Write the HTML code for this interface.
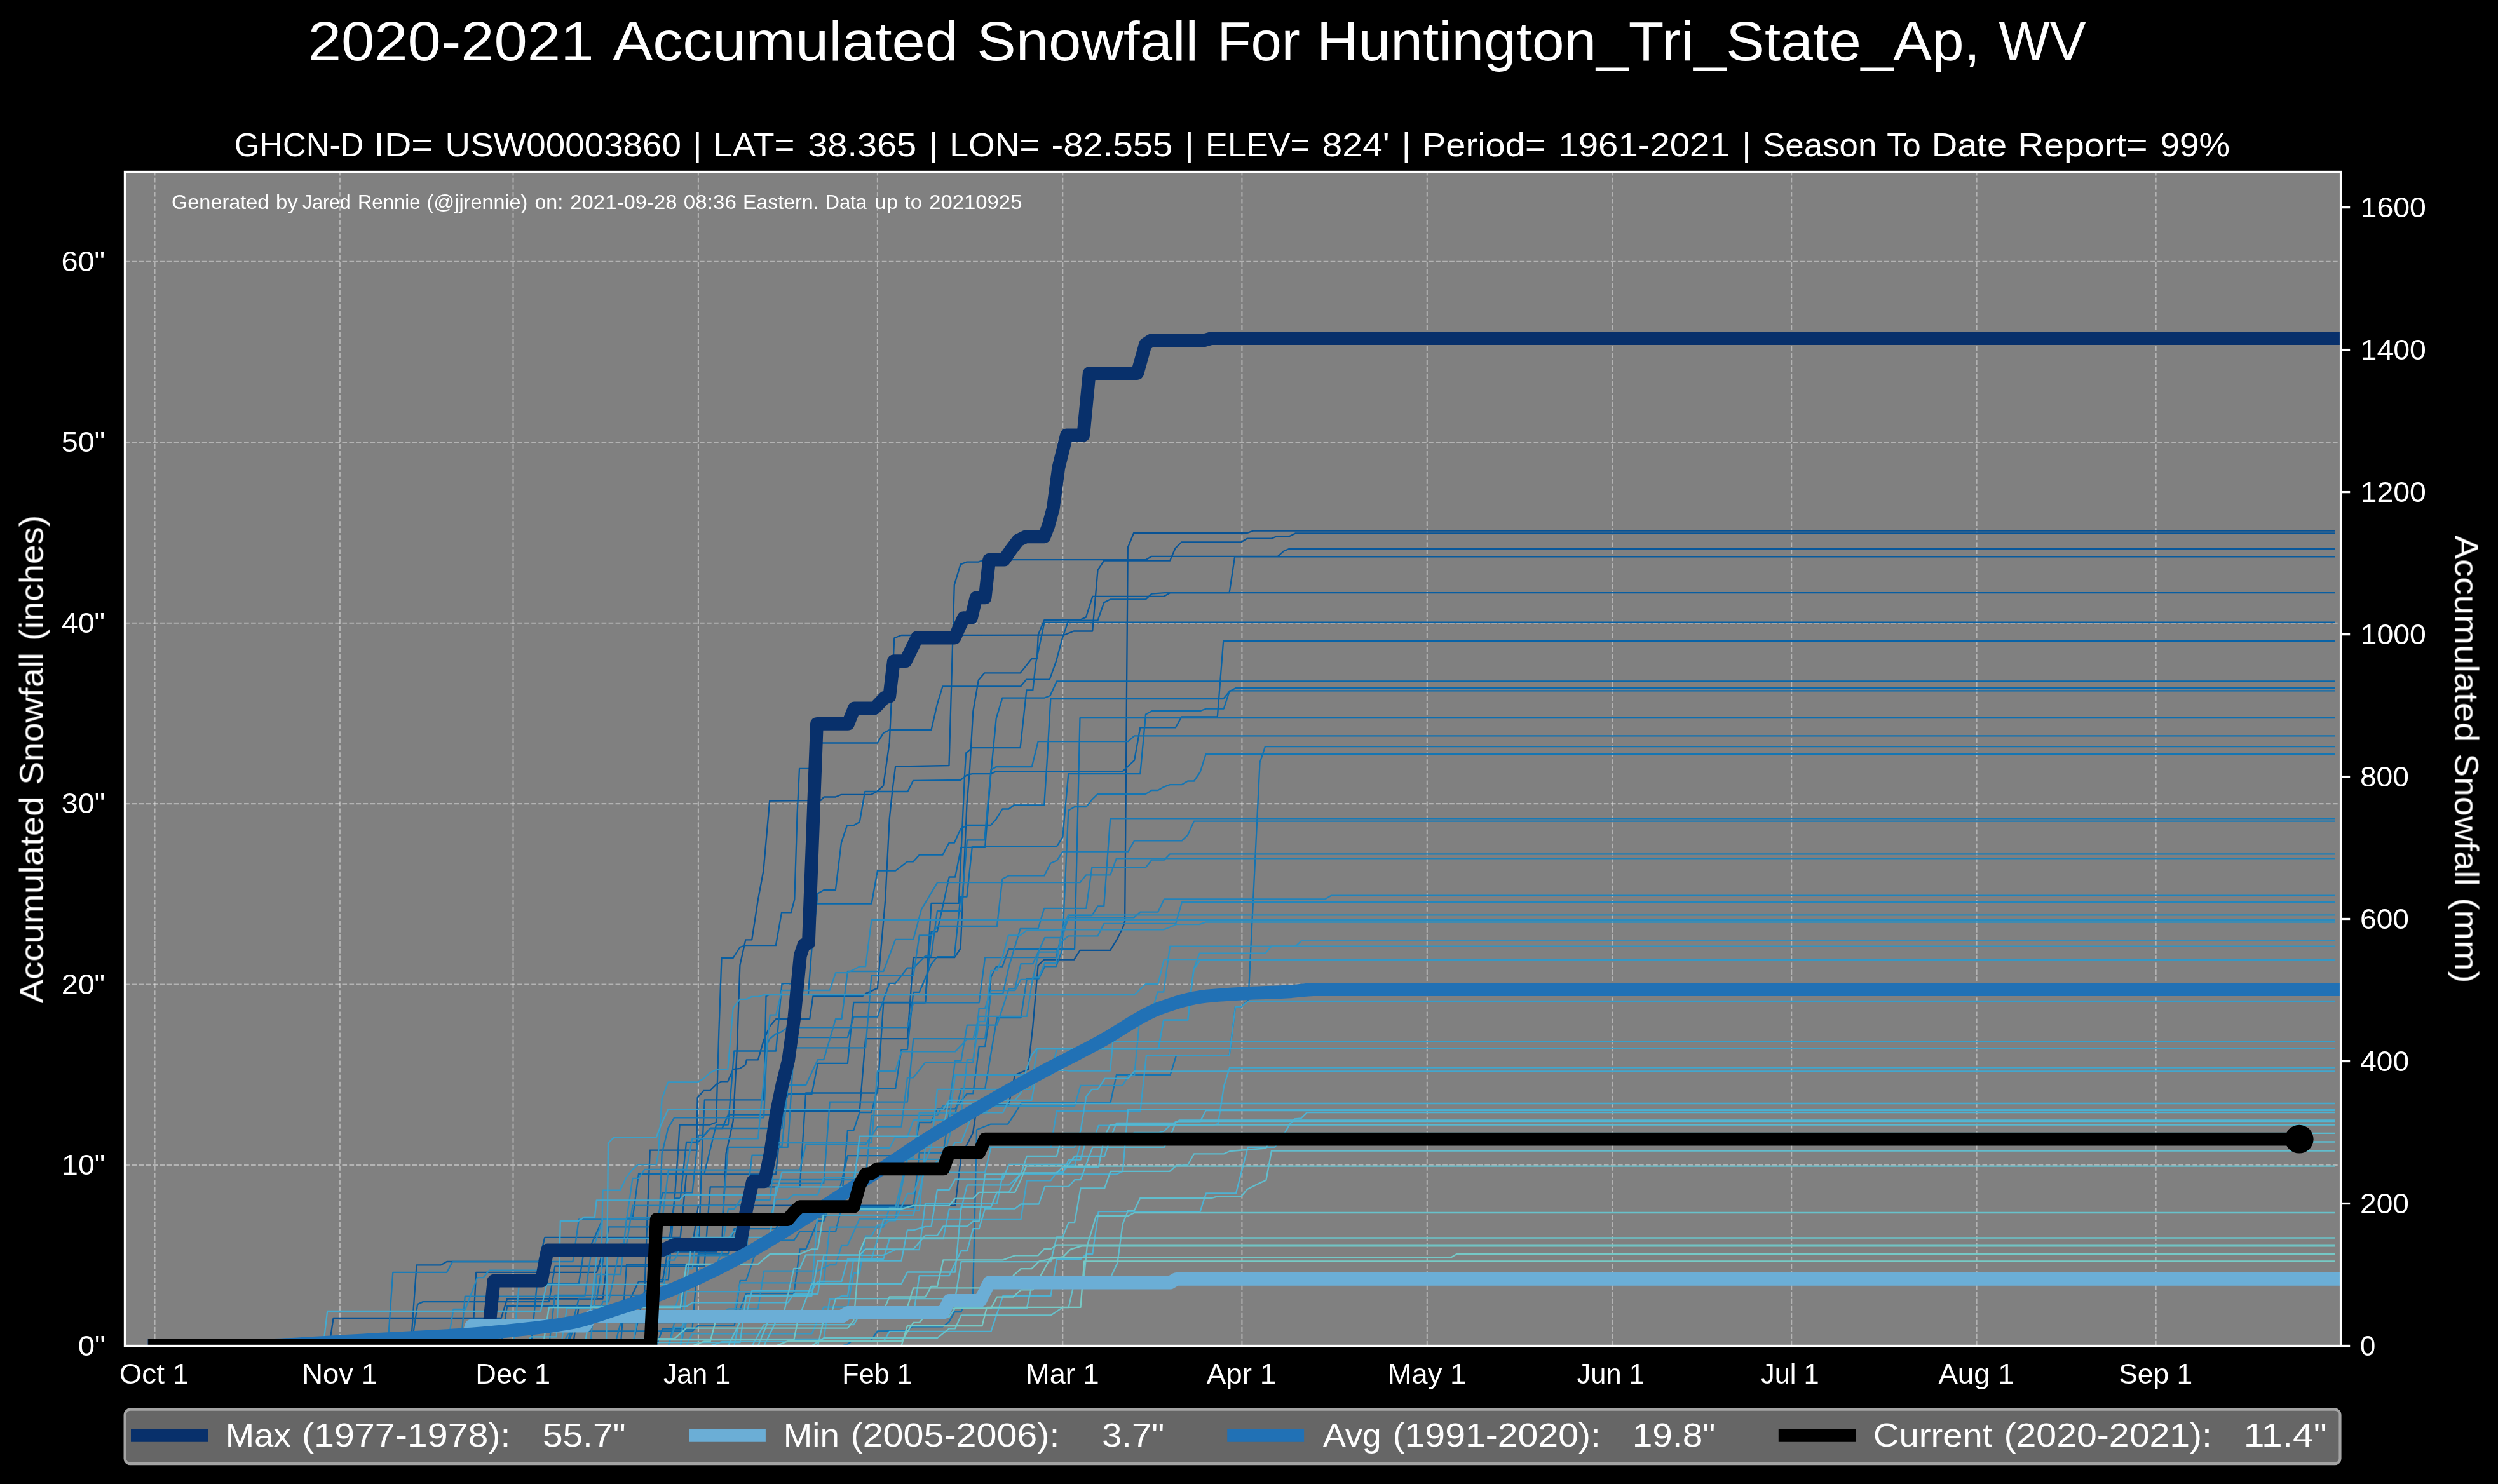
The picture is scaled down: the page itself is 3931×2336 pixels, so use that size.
<!DOCTYPE html>
<html><head><meta charset="utf-8"><title>2020-2021 Accumulated Snowfall For Huntington_Tri_State_Ap, WV</title>
<style>
html,body{margin:0;padding:0;background:#000;}
body{width:3931px;height:2336px;overflow:hidden;}
svg{display:block;}
text{font-family:"Liberation Sans",sans-serif;fill:#fff;}
</style></head><body>
<svg width="3931" height="2336" viewBox="0 0 3931 2336">
<rect x="0" y="0" width="3931" height="2336" fill="#000"/>
<rect x="196.5" y="270.5" width="3487.1" height="1848.0" fill="#808080"/>
<defs><clipPath id="ax"><rect x="196.5" y="270.5" width="3487.1" height="1848.0"/></clipPath></defs>
<g stroke="#ffffff" stroke-opacity="0.4" stroke-width="2.08" stroke-dasharray="7.7 3.33" fill="none">
<line x1="243.5" y1="2118.5" x2="243.5" y2="270.5"/>
<line x1="534.9" y1="2118.5" x2="534.9" y2="270.5"/>
<line x1="807.5" y1="2118.5" x2="807.5" y2="270.5"/>
<line x1="1098.9" y1="2118.5" x2="1098.9" y2="270.5"/>
<line x1="1380.9" y1="2118.5" x2="1380.9" y2="270.5"/>
<line x1="1672.3" y1="2118.5" x2="1672.3" y2="270.5"/>
<line x1="1954.4" y1="2118.5" x2="1954.4" y2="270.5"/>
<line x1="2245.8" y1="2118.5" x2="2245.8" y2="270.5"/>
<line x1="2537.2" y1="2118.5" x2="2537.2" y2="270.5"/>
<line x1="2819.2" y1="2118.5" x2="2819.2" y2="270.5"/>
<line x1="3110.6" y1="2118.5" x2="3110.6" y2="270.5"/>
<line x1="3392.6" y1="2118.5" x2="3392.6" y2="270.5"/>
<line x1="196.5" y1="1834.0" x2="3683.6" y2="1834.0"/>
<line x1="196.5" y1="1549.6" x2="3683.6" y2="1549.6"/>
<line x1="196.5" y1="1265.1" x2="3683.6" y2="1265.1"/>
<line x1="196.5" y1="980.7" x2="3683.6" y2="980.7"/>
<line x1="196.5" y1="696.2" x2="3683.6" y2="696.2"/>
<line x1="196.5" y1="411.7" x2="3683.6" y2="411.7"/>
</g>
<g clip-path="url(#ax)" fill="none" stroke-linejoin="round">
<g stroke-width="2.3" stroke-linecap="butt">
<path d="M243.5 2118.5L518.0 2118.5L524.6 2075.0L788.7 2075.0L798.1 2044.6L948.5 2044.6L957.9 1962.1L1089.5 1962.1L1098.9 1897.6L1503.1 1897.6L1512.5 1820.0L1531.1 1783.0L1537.9 1737.5L1587.7 1737.5L1597.1 1692.0L1617.8 1683.5L1625.3 1616.1L1633.6 1519.7L1643.2 1510.6L1690.2 1510.6L1699.6 1495.9L1747.2 1495.9L1756.9 1480.2L1766.8 1460.6L1770.1 1450.4L1774.8 861.8L1784.2 838.8L1962.8 838.8L1972.2 835.7L3674.6 835.7" stroke="#085294"/>
<path d="M243.5 2118.5L525.5 2118.5L619.5 2118.5L628.9 2117.1L638.3 2117.1L647.7 2111.8L666.5 2111.8L685.3 2110.0L743.6 2110.0L749.2 2002.8L939.1 2002.8L948.5 1970.7L1127.1 1970.7L1136.5 1947.9L1142.5 1816.0L1153.7 1764.5L1159.8 1652.2L1164.4 1519.2L1173.3 1479.4L1183.2 1479.4L1192.9 1416.0L1201.4 1370.8L1211.2 1260.7L1291.6 1259.9L1296.6 1254.5L1314.9 1254.5L1323.9 1250.8L1371.0 1250.8L1380.7 1245.4L1390.1 1236.9L1399.7 1168.9L1407.3 1004.3L1418.5 1000.0L1674.2 999.7L1689.7 993.5L1719.2 993.5L1727.5 897.7L1737.2 882.6L1841.1 882.6L1849.5 863.0L1859.4 853.3L1953.4 853.3L1962.8 847.6L2000.9 847.6L2009.3 844.2L2028.9 844.2L2038.8 839.4L3674.6 839.4" stroke="#085598"/>
<path d="M243.5 2118.5L901.5 2118.5L910.9 2056.0L1013.4 2056.0L1018.1 1928.0L1022.8 1810.6L1096.1 1810.6L1097.6 1728.1L1107.4 1716.8L1117.3 1716.8L1127.0 1707.1L1135.6 1702.3L1145.3 1702.3L1153.7 1683.2L1164.4 1681.8L1173.2 1676.1L1174.7 1668.4L1192.9 1668.4L1202.0 1636.9L1211.2 1615.8L1220.9 1604.2L1274.2 1604.2L1279.4 1568.1L1357.4 1568.1L1362.1 1564.1L1380.9 1555.6L1393.2 1416.3L1399.7 1288.9L1404.4 1244.0L1409.1 1206.7L1493.5 1205.0L1501.8 920.7L1511.6 888.3L1521.5 884.6L1539.8 884.6L1548.3 881.2L1803.0 881.2L1812.4 875.8L2010.8 875.8L2020.2 867.5L2028.9 863.8L3674.6 863.8" stroke="#08589b"/>
<path d="M243.5 2118.5L525.5 2118.5L600.7 2118.5L610.1 2117.0L619.5 2117.0L628.9 2111.7L638.3 2111.7L647.1 2110.0L655.6 1991.4L693.4 1991.4L703.2 1986.0L847.9 1986.0L857.3 1947.9L1070.7 1947.9L1080.1 1848.4L1221.1 1848.4L1230.5 1748.9L1352.7 1748.9L1362.1 1635.2L1427.9 1635.2L1437.3 1507.2L1502.2 1507.2L1511.6 1493.0L1521.5 1265.6L1525.7 1216.1L1531.3 1119.7L1539.8 1070.5L1549.2 1059.4L1605.6 1059.4L1623.5 1037.0L1631.9 1037.0L1633.8 999.2L1643.2 976.1L1700.5 975.3L1709.0 971.6L1719.3 938.9L1831.2 938.9L1841.1 933.2L1934.6 933.2L1943.1 876.3L3674.6 876.3" stroke="#085a9d"/>
<path d="M243.5 2118.5L666.5 2118.5L694.7 2118.5L704.1 2113.5L788.7 2113.5L798.1 2056.0L986.1 2056.0L1004.9 2017.4L1042.5 2017.4L1051.9 1962.2L1061.3 1891.1L1066.8 1816.0L1069.6 1770.5L1117.3 1770.5L1127.0 1766.8L1131.3 1624.4L1135.5 1507.8L1153.7 1507.8L1164.4 1491.0L1173.3 1488.2L1220.9 1488.2L1230.0 1436.4L1244.8 1436.4L1250.3 1416.0L1254.6 1280.4L1258.0 1209.8L1277.5 1209.8L1285.1 1169.5L1380.7 1169.5L1390.1 1154.1L1399.7 1149.0L1465.5 1149.0L1474.9 1108.3L1483.4 1080.5L1606.2 1080.5L1615.0 1069.7L1651.7 1069.7L1662.0 1041.0L1671.4 1006.0L1681.3 976.7L1727.5 976.7L1737.2 948.6L1747.2 943.4L1803.0 943.4L1812.4 934.6L1832.2 933.2L3674.6 933.2" stroke="#085ea1"/>
<path d="M243.5 2118.5L525.5 2118.5L572.5 2118.5L581.9 2118.1L591.3 2118.1L600.7 2113.5L610.1 2113.5L619.5 2110.0L648.7 2110.0L657.1 2053.1L665.6 2049.1L863.9 2049.1L873.3 1993.4L1108.3 1993.4L1117.7 1868.3L1258.7 1868.3L1268.1 1720.5L1380.9 1720.5L1390.3 1578.3L1456.1 1578.3L1465.5 1421.9L1508.8 1421.9L1518.2 1217.2L1520.1 1185.4L1529.9 1177.1L1605.6 1177.1L1615.4 1086.5L1625.3 1086.5L1630.0 1043.8L1643.5 979.6L3674.6 979.6" stroke="#0861a4"/>
<path d="M243.5 2118.5L976.7 2118.5L986.1 1990.6L1098.9 1990.6L1104.6 1816.0L1108.8 1731.3L1202.0 1731.3L1205.5 1568.1L1211.2 1565.5L1271.9 1565.5L1277.5 1493.0L1286.9 1406.6L1296.6 1400.9L1314.9 1400.9L1323.9 1326.7L1333.0 1299.4L1342.9 1299.4L1352.7 1294.0L1361.2 1246.0L1428.4 1246.0L1436.9 1228.9L1511.6 1228.0L1521.5 1220.1L1529.9 1218.1L1559.4 1218.1L1567.7 1214.1L1766.8 1214.1L1785.1 1196.8L1794.3 1145.3L1850.0 1145.3L1859.4 1128.5L1915.8 1128.5L1925.2 1008.8L3674.6 1008.8" stroke="#0863a7"/>
<path d="M243.5 2118.5L807.5 2118.5L995.5 2118.5L1014.3 2031.5L1023.7 2031.5L1033.1 2014.3L1051.9 2014.3L1061.3 1886.5L1070.7 1886.5L1080.1 1797.8L1098.9 1797.8L1117.7 1776.0L1136.5 1776.0L1145.9 1754.7L1230.5 1754.7L1239.9 1722.2L1277.5 1722.2L1286.9 1673.8L1333.9 1673.8L1343.3 1578.0L1456.1 1578.0L1465.5 1466.3L1474.9 1466.3L1493.7 1380.5L1503.1 1380.5L1512.5 1333.8L1529.9 1333.8L1550.1 1333.8L1559.4 1217.2L1567.7 1130.8L1577.4 1098.7L1643.2 1098.7L1652.6 1095.0L1662.9 1072.5L3674.6 1072.5" stroke="#0867ab"/>
<path d="M243.5 2118.5L732.3 2118.5L835.7 2118.5L845.1 2020.2L910.9 2020.2L920.3 1960.6L929.7 1960.6L948.5 1918.9L995.5 1918.9L1004.9 1847.8L1108.3 1847.8L1127.1 1770.5L1145.9 1770.5L1155.3 1654.5L1221.1 1654.5L1230.5 1548.3L1249.3 1548.3L1258.7 1501.6L1268.1 1501.6L1277.5 1422.5L1371.5 1422.5L1380.9 1370.7L1409.1 1370.7L1427.9 1356.3L1437.3 1356.3L1446.7 1345.7L1474.9 1345.7L1483.4 1345.7L1493.5 1326.7L1501.8 1326.7L1511.6 1305.1L1521.5 1298.8L1559.4 1298.8L1567.7 1289.2L1577.4 1273.5L1587.4 1273.5L1595.8 1267.3L1643.2 1267.3L1647.6 1200.2L1653.3 1100.1L1925.2 1100.1L1935.0 1088.2L1944.8 1083.0L3674.6 1083.0" stroke="#0969ad"/>
<path d="M243.5 2118.5L901.5 2118.5L1033.1 2118.5L1042.5 2091.6L1089.5 2091.6L1098.9 1973.6L1145.9 1973.6L1155.3 1934.2L1221.1 1934.2L1230.5 1915.6L1296.3 1915.6L1305.7 1888.9L1324.5 1888.9L1333.9 1779.3L1343.3 1779.3L1352.7 1751.0L1371.5 1751.0L1380.9 1713.9L1409.1 1713.9L1418.5 1652.2L1427.9 1652.2L1437.3 1561.9L1446.7 1561.9L1465.5 1517.7L1474.9 1506.1L1501.8 1506.1L1511.6 1411.7L1521.5 1411.7L1529.9 1332.4L1662.9 1332.4L1672.3 1317.9L1681.3 1218.1L1794.3 1218.1L1803.0 1124.6L1812.4 1119.2L1888.6 1119.2L1898.5 1115.5L1925.8 1115.5L1935.0 1087.3L3674.6 1087.3" stroke="#0b6cae"/>
<path d="M243.5 2118.5L845.1 2118.5L892.1 2118.5L901.5 2095.4L1089.5 2095.4L1098.9 2086.3L1155.3 2086.3L1174.1 2036.1L1249.3 2036.1L1258.7 1966.5L1268.1 1966.5L1286.9 1922.0L1296.3 1922.0L1305.7 1898.4L1315.1 1898.4L1333.9 1819.2L1437.3 1819.2L1446.7 1767.0L1465.5 1767.0L1474.9 1745.3L1503.1 1745.3L1521.9 1721.3L1531.3 1721.3L1540.7 1647.2L1550.1 1647.2L1554.8 1616.1L1559.4 1537.9L1567.7 1521.7L1577.4 1521.7L1587.4 1493.9L1691.1 1493.9L1699.5 1130.2L3674.6 1130.2" stroke="#0e6eaf"/>
<path d="M243.5 2118.5L779.3 2118.5L892.1 2118.5L910.9 2043.9L939.1 2043.9L957.9 1931.3L1033.1 1931.3L1042.5 1877.3L1089.5 1877.3L1098.9 1786.9L1108.3 1786.9L1117.7 1776.0L1230.5 1776.0L1239.9 1633.2L1333.9 1633.2L1343.3 1600.7L1380.9 1600.7L1399.7 1547.9L1409.1 1547.9L1427.9 1523.6L1437.3 1523.6L1456.1 1504.8L1465.5 1504.8L1474.9 1434.1L1512.5 1434.1L1521.9 1322.4L1549.2 1322.4L1559.4 1212.1L1567.7 1207.0L1623.8 1207.0L1633.6 1167.2L1775.2 1167.2L1785.1 1158.4L3674.6 1158.4" stroke="#1171b1"/>
<path d="M243.5 2118.5L1324.5 2118.5L1333.6 2115.9L1341.8 2110.3L1370.6 2110.3L1380.7 2095.5L1427.0 2094.9L1435.5 2088.4L1483.4 2088.4L1493.4 2081.0L1502.2 2065.0L1512.5 2065.0L1515.4 2057.9L1526.6 2044.6L1531.1 2036.1L1537.0 1778.2L1558.6 1769.7L1585.9 1769.7L1597.7 1752.0L1607.5 1736.1L1747.5 1736.1L1756.9 1692.0L1841.6 1692.0L1851.0 1661.6L1934.6 1661.6L1944.0 1584.9L1953.4 1584.6L1964.4 1574.3L1982.6 1200.2L1991.0 1175.2L3674.6 1175.2" stroke="#1373b2"/>
<path d="M243.5 2118.5L920.3 2118.5L967.3 2118.5L976.7 2082.2L1155.3 2082.2L1164.7 2015.8L1174.1 2015.8L1192.9 1960.8L1202.3 1960.8L1211.7 1952.5L1249.3 1952.5L1258.7 1938.4L1315.1 1938.4L1324.5 1899.8L1437.3 1899.8L1446.7 1814.5L1484.3 1814.5L1493.7 1753.4L1503.1 1753.4L1512.5 1713.9L1550.1 1713.9L1568.9 1602.2L1606.5 1602.2L1615.9 1540.5L1634.7 1540.5L1644.1 1521.4L1662.0 1521.4L1671.4 1495.9L1681.3 1275.8L1691.1 1270.1L1709.3 1270.1L1718.4 1258.7L1727.5 1249.9L1803.0 1249.9L1812.4 1244.0L1822.3 1244.0L1831.9 1238.6L1841.1 1235.1L1859.9 1235.1L1869.1 1229.5L1879.0 1229.5L1888.6 1215.5L1897.7 1186.8L3674.6 1186.8" stroke="#1576b3"/>
<path d="M243.5 2118.5L863.9 2118.5L873.3 2038.9L1033.1 2038.9L1041.6 1816.0L1051.4 1775.6L1061.1 1759.4L1202.0 1759.4L1207.0 1644.0L1211.2 1635.5L1220.9 1627.5L1229.6 1624.4L1239.0 1617.3L1427.9 1617.3L1437.3 1578.3L1540.7 1578.3L1550.1 1507.2L1662.0 1507.2L1671.4 1467.4L1681.3 1441.0L1718.4 1441.0L1727.5 1426.5L1737.2 1426.5L1747.2 1288.3L3674.6 1288.3" stroke="#1979b5"/>
<path d="M243.5 2118.5L525.5 2118.5L572.5 2118.5L581.9 2116.1L591.3 2116.1L610.8 2110.0L618.3 2002.8L703.2 2002.8L712.2 1986.0L901.5 1986.0L910.9 1919.5L1136.5 1919.5L1145.9 1805.8L1239.9 1805.8L1249.3 1649.4L1362.1 1649.4L1371.5 1535.7L1437.3 1535.7L1446.7 1472.5L1465.5 1472.5L1474.9 1458.0L1568.9 1458.0L1577.4 1383.8L1587.4 1378.4L1643.2 1378.4L1653.3 1358.8L1662.9 1354.8L1672.3 1340.6L1775.2 1340.6L1785.1 1323.3L1859.9 1323.3L1869.1 1314.5L1879.0 1292.6L3674.6 1292.6" stroke="#1b7bb6"/>
<path d="M243.5 2118.5L525.5 2118.5L610.1 2118.5L619.5 2117.3L628.9 2117.3L647.7 2115.1L657.1 2115.1L666.5 2110.0L725.7 2110.0L731.8 2040.6L920.3 2040.6L929.7 1976.3L1174.1 1976.3L1183.5 1862.6L1296.3 1862.6L1305.7 1734.7L1427.9 1734.7L1437.3 1635.2L1550.1 1635.2L1559.5 1564.1L1578.3 1564.1L1587.7 1521.4L1605.6 1462.0L1633.6 1462.0L1643.2 1429.9L1709.3 1429.9L1718.4 1365.4L1803.0 1365.4L1812.4 1353.7L1831.9 1353.7L1841.1 1344.3L3674.6 1344.3" stroke="#1d7eb7"/>
<path d="M243.5 2118.5L657.1 2118.5L882.7 2118.5L901.5 2089.0L910.9 2089.0L920.3 2079.6L939.1 2079.6L948.5 2049.0L957.9 2049.0L976.7 1958.4L986.1 1958.4L995.5 1897.7L1174.1 1897.7L1183.5 1818.6L1211.7 1818.6L1221.1 1804.7L1230.5 1804.7L1239.9 1708.2L1268.1 1708.2L1286.9 1668.1L1296.3 1668.1L1315.1 1603.9L1324.5 1603.9L1333.9 1529.0L1390.3 1529.0L1409.1 1478.8L1437.3 1478.8L1450.0 1431.3L1475.2 1389.2L1699.6 1389.2L1709.3 1377.3L1747.2 1377.3L1756.9 1351.4L3674.6 1351.4" stroke="#2081b8"/>
<path d="M243.5 2118.5L995.5 2118.5L1051.9 2118.5L1061.3 2081.8L1070.7 2081.8L1080.1 1990.9L1127.1 1990.9L1145.9 1949.8L1155.3 1949.8L1174.1 1871.6L1183.5 1871.6L1202.3 1857.0L1362.1 1857.0L1371.5 1755.9L1474.9 1755.9L1484.3 1740.2L1493.7 1740.2L1503.1 1669.6L1512.5 1669.6L1521.9 1613.6L1568.9 1613.6L1587.7 1556.4L1597.1 1556.4L1606.5 1517.2L1625.3 1517.2L1644.1 1476.0L1671.4 1476.0L1681.3 1444.4L1784.5 1444.4L1794.3 1435.6L1822.3 1435.6L1831.9 1415.4L2085.0 1415.4L2094.8 1409.7L3674.6 1409.7" stroke="#2283ba"/>
<path d="M243.5 2118.5L798.1 2118.5L835.7 2118.5L845.1 2110.8L929.7 2110.8L939.1 2006.0L976.7 2006.0L986.1 1916.7L1042.5 1916.7L1051.9 1841.7L1258.7 1841.7L1268.1 1801.8L1362.1 1801.8L1380.9 1773.7L1418.5 1773.7L1427.9 1696.3L1437.3 1696.3L1456.1 1672.4L1531.3 1672.4L1540.7 1587.3L1550.1 1587.3L1559.5 1559.2L1597.1 1559.2L1606.5 1541.8L1625.3 1541.8L1634.7 1498.7L1662.0 1498.7L1671.4 1481.6L1681.3 1473.4L1727.5 1473.4L1737.2 1453.8L1850.3 1453.8L1859.9 1420.0L3674.6 1420.0" stroke="#2586bb"/>
<path d="M243.5 2118.5L929.7 2118.5L1014.3 2118.5L1033.1 2035.3L1042.5 2035.3L1051.9 1983.7L1061.3 1983.7L1070.7 1964.1L1136.5 1964.1L1145.9 1903.2L1155.3 1903.2L1164.7 1888.9L1211.7 1888.9L1221.1 1799.0L1371.5 1799.0L1380.9 1686.2L1409.1 1686.2L1418.5 1655.4L1503.1 1655.4L1521.9 1635.7L1531.3 1635.7L1540.7 1599.9L1615.9 1599.9L1625.3 1538.4L1634.7 1538.4L1644.1 1515.8L1662.0 1515.8L1671.4 1464.6L1681.3 1440.4L3674.6 1440.4" stroke="#2889bc"/>
<path d="M243.5 2118.5L638.3 2118.5L704.1 2118.5L713.5 2061.0L732.3 2061.0L751.1 2011.2L760.5 2011.2L769.9 1999.7L854.5 1999.7L863.9 1977.4L929.7 1977.4L948.5 1918.9L986.1 1918.9L995.5 1854.9L1004.9 1854.9L1014.3 1840.8L1080.1 1840.8L1089.5 1792.3L1192.9 1792.3L1211.7 1597.7L1221.1 1597.7L1230.5 1559.0L1305.7 1559.0L1315.1 1531.1L1333.9 1531.1L1352.7 1521.4L1362.1 1521.4L1371.5 1448.1L3674.6 1448.1" stroke="#2a8bbe"/>
<path d="M243.5 2118.5L835.7 2118.5L1070.7 2118.5L1080.1 2081.1L1127.1 2081.1L1145.9 2060.3L1192.9 2060.3L1202.3 2000.7L1286.9 2000.7L1305.7 1991.0L1315.1 1991.0L1324.5 1959.9L1333.9 1959.9L1352.7 1918.6L1409.1 1918.6L1427.9 1824.8L1484.3 1824.8L1503.1 1755.5L1512.5 1755.5L1521.9 1668.2L1531.3 1668.2L1540.7 1608.0L1550.1 1608.0L1559.5 1527.9L1568.9 1527.9L1577.4 1507.2L1586.8 1472.5L1605.6 1472.5L1615.0 1464.6L1672.3 1463.4L1831.2 1463.4L1841.1 1459.5L1850.9 1455.2L1887.3 1455.2L1897.7 1451.5L3674.6 1451.5" stroke="#2c8ebf"/>
<path d="M243.5 2118.5L967.3 2118.5L1051.9 2118.5L1061.3 2089.8L1070.7 2089.8L1080.1 2081.4L1117.7 2081.4L1127.1 2066.4L1155.3 2066.4L1164.7 2019.3L1296.3 2019.3L1305.7 1931.7L1390.3 1931.7L1399.7 1901.0L1409.1 1901.0L1427.9 1823.6L1437.3 1823.6L1446.7 1751.7L1550.1 1751.7L1559.5 1741.2L1691.1 1741.2L1700.5 1708.9L1766.3 1708.9L1775.7 1693.2L1785.1 1693.2L1794.5 1592.5L1812.4 1592.5L1821.8 1561.5L1831.2 1561.5L1841.1 1489.6L2038.8 1489.6L2048.4 1480.5L3674.6 1480.5" stroke="#2f90c0"/>
<path d="M243.5 2118.5L892.1 2118.5L995.5 2118.5L1004.9 2064.3L1061.3 2064.3L1080.1 1997.2L1089.5 1997.2L1098.9 1928.7L1136.5 1928.7L1145.9 1921.3L1192.9 1921.3L1202.3 1916.1L1211.7 1916.1L1221.1 1887.9L1239.9 1887.9L1249.3 1880.5L1286.9 1880.5L1296.3 1853.8L1343.3 1853.8L1352.7 1807.2L1399.7 1807.2L1409.1 1790.0L1427.9 1790.0L1437.3 1763.1L1493.7 1763.1L1503.1 1692.0L1653.5 1692.0L1662.9 1651.4L1822.8 1651.4L1831.2 1605.6L1869.2 1605.6L1878.2 1526.3L1887.6 1500.7L1991.0 1500.7L2000.9 1489.6L3674.6 1489.6" stroke="#3294c2"/>
<path d="M243.5 2118.5L807.5 2118.5L816.9 2022.4L945.7 2022.4L948.5 1873.7L975.8 1873.7L985.2 1854.1L994.6 1841.6L1004.0 1833.1L1032.7 1833.1L1035.9 1816.0L1041.6 1729.3L1051.4 1703.4L1097.6 1703.4L1107.4 1697.7L1117.3 1688.6L1128.4 1683.2L1145.3 1683.2L1153.7 1586.6L1164.4 1572.9L1174.7 1572.9L1183.2 1568.9L1192.9 1568.9L1202.0 1566.1L1785.1 1566.1L1803.0 1549.0L1822.3 1549.0L1831.9 1510.1L3674.6 1510.1" stroke="#3496c3"/>
<path d="M243.5 2118.5L1023.7 2118.5L1080.1 2118.5L1089.5 2099.4L1277.5 2099.4L1296.3 2057.5L1333.9 2057.5L1343.3 2003.9L1352.7 2003.9L1362.1 1945.7L1371.5 1945.7L1380.9 1928.3L1390.3 1928.3L1399.7 1921.3L1409.1 1921.3L1427.9 1879.0L1437.3 1879.0L1456.1 1827.5L1465.5 1805.8L1474.9 1714.8L1622.5 1714.8L1631.9 1651.4L1822.8 1651.4L1831.2 1605.6L1869.2 1605.6L1873.5 1564.4L1879.0 1525.1L1888.6 1511.8L3674.6 1511.8" stroke="#3699c5"/>
<path d="M243.5 2118.5L1070.7 2118.5L1080.1 2033.2L1277.5 2033.2L1286.9 1905.3L1446.7 1905.3L1456.1 1805.8L1653.5 1805.8L1662.9 1748.9L1794.5 1748.9L1803.9 1661.6L1934.6 1661.6L1944.0 1584.9L1953.4 1584.6L1964.4 1575.8L3674.6 1575.8" stroke="#3a9cc7"/>
<path d="M243.5 2118.5L854.5 2118.5L882.7 2118.5L892.1 2059.6L929.7 2059.6L939.1 1975.7L948.5 1975.7L957.9 1949.1L1145.9 1949.1L1155.3 1938.1L1174.1 1938.1L1192.9 1912.9L1437.3 1912.9L1456.1 1837.9L1465.5 1837.9L1474.9 1827.4L1484.3 1827.4L1503.1 1798.7L1512.5 1798.7L1531.3 1751.3L1578.3 1751.3L1587.7 1731.8L1623.5 1731.8L1631.9 1684.9L1677.0 1684.9L1682.7 1685.5L1747.2 1685.5L1751.3 1639.4L3674.6 1639.4" stroke="#3c9fc8"/>
<path d="M243.5 2118.5L719.2 2118.5L816.9 2118.5L835.7 2114.6L873.3 2114.6L882.7 2111.0L892.1 2111.0L910.9 2110.0L954.2 2110.0L957.0 1799.5L966.4 1790.1L1032.7 1790.1L1041.6 1767.4L1051.4 1746.3L1484.3 1746.3L1493.7 1731.8L1597.1 1731.8L1606.5 1720.5L1615.0 1683.5L1623.5 1660.8L1631.9 1650.5L3674.6 1650.5" stroke="#3ea1c9"/>
<path d="M243.5 2118.5L939.1 2118.5L986.1 2118.5L995.5 2108.0L1296.3 2108.0L1305.7 2044.6L1315.1 2044.6L1324.5 2040.1L1333.9 2040.1L1343.3 1982.0L1371.5 1982.0L1390.3 1919.8L1606.5 1919.8L1615.9 1858.4L1653.5 1858.4L1662.9 1845.2L1672.3 1845.2L1681.7 1834.3L1691.1 1834.3L1700.5 1799.2L1719.3 1799.2L1728.7 1771.6L1747.5 1771.6L1907.4 1771.6L1916.8 1768.8L1926.2 1709.1L1935.0 1680.7L3674.6 1680.7" stroke="#41a5cb"/>
<path d="M243.5 2118.5L640.7 2118.5L694.7 2118.5L704.1 2116.6L732.3 2116.6L741.7 2114.9L826.3 2114.9L835.7 2104.3L875.7 2104.3L879.9 2007.6L881.8 1922.0L910.0 1922.0L919.4 1915.8L935.9 1915.8L938.7 1889.3L1068.8 1889.3L1077.3 1880.8L1221.1 1880.8L1230.5 1845.6L1550.1 1845.6L1559.5 1805.8L1691.1 1805.8L1700.5 1780.2L1709.3 1726.2L1718.4 1714.8L1727.5 1714.8L1738.7 1697.7L1775.2 1697.7L1785.1 1686.3L3674.6 1686.3" stroke="#43a7cd"/>
<path d="M243.5 2118.5L508.6 2118.5L515.2 2063.9L850.8 2063.9L860.2 2021.8L1080.1 2021.8L1089.5 1947.9L1211.7 1947.9L1221.1 1868.3L1343.3 1868.3L1352.7 1788.7L1482.5 1788.7L1491.9 1737.0L3674.6 1737.0" stroke="#46aace"/>
<path d="M243.5 2118.5L976.7 2118.5L1155.3 2118.5L1164.7 2071.0L1174.1 2071.0L1183.5 2031.3L1277.5 2031.3L1286.9 2017.0L1324.5 2017.0L1333.9 1981.9L1390.3 1981.9L1399.7 1950.2L1484.3 1950.2L1493.7 1903.5L1512.5 1903.5L1521.9 1865.4L1587.7 1865.4L1606.5 1848.4L1756.9 1848.4L1766.8 1843.9L1775.2 1746.1L3674.6 1746.1" stroke="#49add0"/>
<path d="M243.5 2118.5L826.3 2118.5L920.3 2118.5L929.7 2056.7L1080.1 2056.7L1089.5 2050.4L1239.9 2050.4L1249.3 2037.2L1286.9 2037.2L1296.3 1975.8L1390.3 1975.8L1409.1 1967.1L1446.7 1967.1L1456.1 1894.2L1568.9 1894.2L1578.3 1846.9L1672.3 1846.9L1681.7 1825.6L1700.5 1825.6L1709.9 1791.4L1766.3 1791.4L1785.1 1783.0L1822.8 1783.0L1831.2 1781.0L1841.1 1771.6L1850.9 1765.4L1888.6 1765.4L1897.7 1748.0L3674.6 1748.0" stroke="#4bb0d1"/>
<path d="M243.5 2118.5L1004.9 2118.5L1117.7 2118.5L1136.5 2111.9L1390.3 2111.9L1399.7 2095.9L1559.5 2095.9L1578.3 2040.0L1653.5 2040.0L1662.9 1982.2L1700.5 1982.2L1709.9 1973.8L1719.3 1973.8L1728.7 1907.2L1888.6 1907.2L1898.0 1878.3L1945.0 1878.3L1963.8 1805.8L2006.1 1805.8L2022.0 1783.0L2029.6 1769.7L2037.1 1761.4L2047.4 1760.3L2056.8 1751.2L3674.6 1751.2" stroke="#4db2d3"/>
<path d="M243.5 2118.5L751.1 2118.5L920.3 2118.5L929.7 2113.1L1164.7 2113.1L1174.1 2039.8L1277.5 2039.8L1286.9 1984.5L1418.5 1984.5L1427.9 1936.4L1437.3 1936.4L1456.1 1930.9L1465.5 1930.9L1474.9 1873.0L1493.7 1873.0L1503.1 1856.3L1578.3 1856.3L1587.7 1832.9L1681.7 1832.9L1691.1 1820.0L1738.1 1820.0L1747.5 1791.5L1756.9 1767.9L1850.0 1767.9L1855.7 1763.4L3674.6 1763.4" stroke="#50b4d2"/>
<path d="M243.5 2118.5L901.5 2118.5L1183.5 2118.5L1202.3 2085.1L1343.3 2085.1L1352.7 2070.5L1437.3 2070.5L1446.7 2008.2L1493.7 2008.2L1512.5 1969.0L1521.9 1969.0L1531.3 1934.2L1540.7 1934.2L1550.1 1902.6L1597.1 1902.6L1606.5 1895.5L1634.7 1895.5L1644.1 1867.8L1681.7 1867.8L1691.1 1857.2L1700.5 1857.2L1719.3 1805.8L1832.2 1805.8L1841.6 1788.7L1850.9 1765.1L3674.6 1765.1" stroke="#54b6d1"/>
<path d="M243.5 2118.5L788.7 2118.5L1202.3 2118.5L1221.1 2079.9L1239.9 2079.9L1249.3 2070.1L1258.7 2070.1L1277.5 2021.1L1418.5 2021.1L1427.9 2002.5L1503.1 2002.5L1512.5 1900.0L1559.5 1900.0L1568.9 1876.7L1587.7 1876.7L1606.5 1846.3L1662.9 1846.3L1672.3 1837.0L1728.7 1837.0L1738.1 1788.7L1747.2 1770.5L3674.6 1770.5" stroke="#57b8d0"/>
<path d="M243.5 2118.5L863.9 2118.5L1145.9 2118.5L1164.7 2080.3L1230.5 2080.3L1249.3 1996.8L1258.7 1996.8L1268.1 1975.3L1352.7 1975.3L1362.1 1966.3L1437.3 1966.3L1456.1 1944.8L1474.9 1944.8L1484.3 1930.5L1521.9 1930.5L1531.3 1922.4L1540.7 1922.4L1550.1 1848.4L1606.5 1848.4L1615.9 1820.0L1662.9 1820.0L1672.3 1783.9L3674.6 1783.9" stroke="#5abacf"/>
<path d="M243.5 2118.5L957.9 2118.5L1286.9 2118.5L1296.3 2077.3L1305.7 2077.3L1315.1 2044.2L1503.1 2044.2L1512.5 1986.2L1653.5 1986.2L1662.9 1947.5L1672.3 1947.5L1681.7 1924.2L1691.1 1924.2L1700.5 1870.5L1738.1 1870.5L1747.5 1843.9L1766.3 1843.9L1840.6 1843.9L1850.9 1834.8L1868.8 1834.2L1879.0 1816.3L1926.2 1816.3L1935.6 1812.0L1992.0 1807.5L1996.7 1797.5L3674.6 1797.5" stroke="#5ebcce"/>
<path d="M243.5 2118.5L1089.5 2118.5L1192.9 2118.5L1211.7 2072.9L1493.7 2072.9L1503.1 2059.2L1615.9 2059.2L1625.3 2015.4L1719.3 2015.4L1728.7 2009.3L1748.5 2009.3L1758.4 1988.3L1766.8 1926.6L1775.2 1905.6L1785.1 1905.6L1794.3 1885.9L1907.0 1885.9L1916.8 1883.1L1953.4 1883.1L1962.8 1872.0L1982.6 1862.1L1992.4 1857.8L2000.9 1811.7L3674.6 1811.7" stroke="#61bdcd"/>
<path d="M243.5 2118.5L760.5 2118.5L854.5 2118.5L863.9 2058.0L1070.7 2058.0L1080.1 1989.9L1192.9 1989.9L1211.7 1974.0L1258.7 1974.0L1277.5 1966.3L1286.9 1966.3L1296.3 1909.0L1305.7 1909.0L1315.1 1903.2L1418.5 1903.2L1437.3 1897.6L1493.7 1897.6L1503.1 1886.7L1531.3 1886.7L1540.7 1876.8L1597.1 1876.8L1606.5 1856.9L1615.0 1835.6L3674.6 1835.6" stroke="#64bfcc"/>
<path d="M243.5 2118.5L1108.3 2118.5L1277.5 2118.5L1296.3 2106.2L1474.9 2106.2L1493.7 2091.3L1503.1 2091.3L1512.5 2070.5L1653.5 2070.5L1672.3 2058.1L1681.7 2058.1L1691.1 2016.1L1700.5 2016.1L1706.2 2007.6L1710.9 1960.7L1725.0 1913.8L1775.7 1913.8L1785.1 1909.0L3674.6 1909.0" stroke="#68c1ca"/>
<path d="M243.5 2118.5L807.5 2118.5L995.5 2118.5L1014.3 2107.2L1061.3 2107.2L1080.1 2090.7L1333.9 2090.7L1343.3 2079.0L1352.7 1970.7L1362.1 1948.5L3674.6 1948.5" stroke="#6bc3c9"/>
<path d="M243.5 2118.5L920.3 2118.5L967.3 2118.5L976.7 2109.2L1249.3 2109.2L1258.7 2063.1L1390.3 2063.1L1399.7 2041.5L1456.1 2041.5L1465.5 2024.9L1474.9 2024.9L1484.3 1983.4L1578.3 1983.4L1597.1 1976.3L1633.8 1976.3L1643.2 1966.1L1653.5 1966.1L1662.9 1959.6L3674.6 1959.6" stroke="#6ec5c8"/>
<path d="M243.5 2118.5L1042.5 2118.5L1089.5 2118.5L1108.3 2111.4L1117.7 2111.4L1127.1 2075.8L1390.3 2075.8L1399.7 2057.6L1427.9 2057.6L1437.3 2027.3L1559.5 2027.3L1578.3 2024.7L1587.7 2024.7L1594.8 2007.6L1606.5 1997.1L1623.5 1997.1L1635.4 1985.4L1673.3 1978.1L1684.6 1966.7L1702.4 1961.3L3674.6 1961.3" stroke="#72c7c7"/>
<path d="M243.5 2118.5L1014.3 2118.5L1221.1 2118.5L1239.9 2111.1L1418.5 2111.1L1437.3 2081.9L1446.7 2081.9L1465.5 2059.7L1559.5 2059.7L1568.9 2041.7L1594.3 2041.7L1606.5 2030.4L1625.3 2030.4L1634.7 2013.3L1644.1 1996.2L1653.5 1979.5L2283.4 1979.5L2292.8 1973.8L3674.6 1973.8" stroke="#75c8c6"/>
<path d="M243.5 2118.5L1418.5 2118.5L1427.9 2087.2L1545.4 2087.2L1553.0 2057.9L1700.5 2057.9L1706.2 1985.4L3674.6 1985.4" stroke="#77cac5"/>
</g>
<path d="M242.9 2118.5L758.4 2118.5L767.7 2110.0L777.1 2016.1L852.1 2016.1L861.5 1967.8L1042.8 1967.8L1052.2 1963.6L1061.6 1959.3L1164.7 1959.3L1175.0 1902.4L1184.4 1859.8L1203.1 1859.8L1212.5 1814.3L1221.8 1751.7L1231.2 1706.3L1240.6 1669.3L1250.0 1601.1L1259.3 1504.4L1265.0 1487.3L1272.4 1484.5L1285.4 1139.3L1334.5 1139.3L1344.3 1114.9L1376.2 1114.9L1392.2 1098.1L1399.7 1096.4L1406.3 1040.7L1425.1 1040.7L1443.0 1004.0L1502.2 1004.0L1516.3 972.7L1528.5 972.7L1536.0 940.9L1550.1 940.9L1556.7 881.2L1580.2 881.2L1591.5 864.7L1602.3 850.5L1614.1 844.8L1643.2 844.8L1649.8 827.7L1657.3 800.2L1665.8 736.2L1678.5 685.0L1704.8 685.0L1714.2 587.5L1789.8 587.5L1802.5 542.0L1811.5 536.0L1894.2 536.0L1906.4 532.6L3684.0 532.6" stroke="#08306b" stroke-width="20.8" stroke-linecap="square"/>
<path d="M243.5 2118.5L732.3 2118.5L741.7 2087.2L920.3 2087.2L929.7 2072.4L1324.5 2072.4L1333.9 2066.5L1484.3 2066.5L1493.7 2047.4L1542.6 2047.4L1556.7 2019.0L1841.6 2019.0L1851.0 2013.3L3684.0 2013.3" stroke="#6baed6" stroke-width="20.8" stroke-linecap="square"/>
<path d="M243.5 2118.5L252.9 2118.5L262.3 2118.5L271.7 2118.5L281.1 2118.5L290.5 2118.5L299.9 2118.5L309.3 2118.5L318.7 2118.5L328.1 2118.5L337.5 2118.5L346.9 2118.5L356.3 2118.5L365.7 2118.4L375.1 2118.3L384.5 2118.3L393.9 2118.2L403.3 2118.0L412.7 2117.9L422.1 2117.8L431.5 2117.5L440.9 2117.1L450.3 2116.7L459.7 2116.3L469.1 2115.8L478.5 2115.2L487.9 2114.7L497.3 2114.2L506.7 2113.7L516.1 2113.2L525.5 2112.6L534.9 2112.1L544.3 2111.5L553.7 2110.9L563.1 2110.4L572.5 2109.8L581.9 2109.2L591.3 2108.7L600.7 2108.1L610.1 2107.6L619.5 2107.1L628.9 2106.6L638.3 2106.1L647.7 2105.7L657.1 2105.2L666.5 2104.7L675.9 2104.2L685.3 2103.6L694.7 2103.1L704.1 2102.6L713.5 2102.0L722.9 2101.4L732.3 2100.7L741.7 2100.0L751.1 2099.3L760.5 2098.6L769.9 2097.8L779.3 2096.9L788.7 2096.1L798.1 2095.2L807.5 2094.2L816.9 2093.2L826.3 2092.2L835.7 2091.1L845.1 2090.0L854.5 2088.8L863.9 2087.6L873.3 2086.2L882.7 2084.8L892.1 2083.2L901.5 2081.5L910.9 2079.4L920.3 2076.9L929.7 2074.2L939.1 2071.2L948.5 2068.1L957.9 2064.9L967.3 2061.7L976.7 2058.6L986.1 2055.6L995.5 2052.5L1004.9 2049.5L1014.3 2046.3L1023.7 2043.0L1033.1 2039.6L1042.5 2036.0L1051.9 2032.3L1061.3 2028.4L1070.7 2024.4L1080.1 2020.3L1089.5 2016.0L1098.9 2011.7L1108.3 2007.2L1117.7 2002.7L1127.1 1998.1L1136.5 1993.4L1145.9 1988.6L1155.3 1983.7L1164.7 1978.8L1174.1 1973.7L1183.5 1968.5L1192.9 1963.1L1202.3 1957.5L1211.7 1951.9L1221.1 1946.2L1230.5 1940.4L1239.9 1934.6L1249.3 1928.7L1258.7 1922.9L1268.1 1917.0L1277.5 1911.1L1286.9 1905.0L1296.3 1899.0L1305.7 1892.9L1315.1 1886.8L1324.5 1880.8L1333.9 1874.7L1343.3 1868.6L1352.7 1862.5L1362.1 1856.3L1371.5 1850.2L1380.9 1844.1L1390.3 1837.9L1399.7 1831.8L1409.1 1825.6L1418.5 1819.3L1427.9 1813.0L1437.3 1806.7L1446.7 1800.5L1456.1 1794.4L1465.5 1788.4L1474.9 1782.6L1484.3 1776.8L1493.7 1771.1L1503.1 1765.4L1512.5 1759.8L1521.9 1754.2L1531.3 1748.7L1540.7 1743.2L1550.1 1737.8L1559.5 1732.4L1568.9 1727.0L1578.3 1721.7L1587.7 1716.4L1597.1 1711.1L1606.5 1705.9L1615.9 1700.7L1625.3 1695.5L1634.7 1690.3L1644.1 1685.3L1653.5 1680.3L1662.9 1675.4L1672.3 1670.5L1681.7 1665.7L1691.1 1660.9L1700.5 1656.0L1709.9 1651.1L1719.3 1646.2L1728.7 1641.2L1738.1 1635.9L1747.5 1630.4L1756.9 1624.6L1766.3 1618.7L1775.7 1612.9L1785.1 1607.2L1794.5 1601.7L1803.9 1596.6L1813.4 1591.9L1822.8 1587.9L1832.2 1584.5L1841.6 1581.3L1851.0 1578.3L1860.4 1575.6L1869.8 1573.1L1879.2 1571.0L1888.6 1569.4L1898.0 1568.2L1907.4 1567.3L1916.8 1566.5L1926.2 1565.8L1935.6 1565.2L1945.0 1564.6L1954.4 1564.1L1963.8 1563.6L1973.2 1563.2L1982.6 1562.9L1992.0 1562.5L2001.4 1562.2L2010.8 1561.9L2020.2 1561.4L2029.6 1560.9L2039.0 1560.0L2048.4 1559.0L2057.8 1558.2L2067.2 1557.6L2076.6 1557.6L2086.0 1557.6L2095.4 1557.6L2104.8 1557.6L2114.2 1557.6L2123.6 1557.6L2133.0 1557.6L2142.4 1557.6L2151.8 1557.6L2161.2 1557.6L2170.6 1557.6L2180.0 1557.6L2189.4 1557.6L2198.8 1557.6L2208.2 1557.6L2217.6 1557.6L2227.0 1557.6L2236.4 1557.6L2245.8 1557.6L2255.2 1557.6L2264.6 1557.6L2274.0 1557.6L2283.4 1557.6L2292.8 1557.6L2302.2 1557.6L2311.6 1557.6L2321.0 1557.6L2330.4 1557.6L2339.8 1557.6L2349.2 1557.6L2358.6 1557.6L2368.0 1557.6L2377.4 1557.6L2386.8 1557.6L2396.2 1557.6L2405.6 1557.6L2415.0 1557.6L2424.4 1557.6L2433.8 1557.6L2443.2 1557.6L2452.6 1557.6L2462.0 1557.6L2471.4 1557.6L2480.8 1557.6L2490.2 1557.6L2499.6 1557.6L2509.0 1557.6L2518.4 1557.6L2527.8 1557.6L2537.2 1557.6L2546.6 1557.6L2556.0 1557.6L2565.4 1557.6L2574.8 1557.6L2584.2 1557.6L2593.6 1557.6L2603.0 1557.6L2612.4 1557.6L2621.8 1557.6L2631.2 1557.6L2640.6 1557.6L2650.0 1557.6L2659.4 1557.6L2668.8 1557.6L2678.2 1557.6L2687.6 1557.6L2697.0 1557.6L2706.4 1557.6L2715.8 1557.6L2725.2 1557.6L2734.6 1557.6L2744.0 1557.6L2753.4 1557.6L2762.8 1557.6L2772.2 1557.6L2781.6 1557.6L2791.0 1557.6L2800.4 1557.6L2809.8 1557.6L2819.2 1557.6L2828.6 1557.6L2838.0 1557.6L2847.4 1557.6L2856.8 1557.6L2866.2 1557.6L2875.6 1557.6L2885.0 1557.6L2894.4 1557.6L2903.8 1557.6L2913.2 1557.6L2922.6 1557.6L2932.0 1557.6L2941.4 1557.6L2950.8 1557.6L2960.2 1557.6L2969.6 1557.6L2979.0 1557.6L2988.4 1557.6L2997.8 1557.6L3007.2 1557.6L3016.6 1557.6L3026.0 1557.6L3035.4 1557.6L3044.8 1557.6L3054.2 1557.6L3063.6 1557.6L3073.0 1557.6L3082.4 1557.6L3091.8 1557.6L3101.2 1557.6L3110.6 1557.6L3120.0 1557.6L3129.4 1557.6L3138.8 1557.6L3148.2 1557.6L3157.6 1557.6L3167.0 1557.6L3176.4 1557.6L3185.8 1557.6L3195.2 1557.6L3204.6 1557.6L3214.0 1557.6L3223.4 1557.6L3232.8 1557.6L3242.2 1557.6L3251.6 1557.6L3261.0 1557.6L3270.4 1557.6L3279.8 1557.6L3289.2 1557.6L3298.6 1557.6L3308.0 1557.6L3317.4 1557.6L3326.8 1557.6L3336.2 1557.6L3345.6 1557.6L3355.0 1557.6L3364.4 1557.6L3373.8 1557.6L3383.2 1557.6L3392.6 1557.6L3402.0 1557.6L3411.4 1557.6L3420.8 1557.6L3430.2 1557.6L3439.6 1557.6L3449.0 1557.6L3458.4 1557.6L3467.8 1557.6L3477.2 1557.6L3486.6 1557.6L3496.0 1557.6L3505.4 1557.6L3514.8 1557.6L3524.2 1557.6L3533.6 1557.6L3543.0 1557.6L3552.4 1557.6L3561.8 1557.6L3571.2 1557.6L3580.6 1557.6L3590.0 1557.6L3599.4 1557.6L3608.8 1557.6L3618.2 1557.6L3627.6 1557.6L3637.0 1557.6L3646.4 1557.6L3655.8 1557.6L3665.2 1557.6L3674.6 1557.6L3684.0 1557.6" stroke="#2171b5" stroke-width="20.8" stroke-linecap="square"/>
<path d="M243.5 2118.5L1023.7 2118.5L1033.1 1919.5L1239.9 1919.5L1249.3 1908.1L1258.7 1899.6L1343.3 1899.6L1352.7 1865.5L1362.1 1848.4L1371.5 1847.0L1380.9 1839.9L1484.3 1839.9L1493.7 1814.3L1540.7 1814.3L1550.1 1793.2L3618.2 1793.2" stroke="#000" stroke-width="20.8" stroke-linecap="square"/>
<circle cx="3618.2" cy="1793.2" r="22.4" fill="#000" stroke="none"/>
</g>
<g stroke="#fff" stroke-width="3.33" fill="none">
<rect x="196.5" y="270.5" width="3487.1" height="1848.0"/>
<line x1="3683.6" y1="2118.5" x2="3698.2" y2="2118.5"/>
<line x1="3683.6" y1="1894.5" x2="3698.2" y2="1894.5"/>
<line x1="3683.6" y1="1670.5" x2="3698.2" y2="1670.5"/>
<line x1="3683.6" y1="1446.5" x2="3698.2" y2="1446.5"/>
<line x1="3683.6" y1="1222.6" x2="3698.2" y2="1222.6"/>
<line x1="3683.6" y1="998.6" x2="3698.2" y2="998.6"/>
<line x1="3683.6" y1="774.6" x2="3698.2" y2="774.6"/>
<line x1="3683.6" y1="550.6" x2="3698.2" y2="550.6"/>
<line x1="3683.6" y1="326.6" x2="3698.2" y2="326.6"/>
</g>
<rect x="196.6" y="2218.7" width="3485.9" height="85.5" rx="8.3" ry="8.3" fill="#666666" stroke="#a3a3a3" stroke-width="4.17"/>
<g stroke-width="20.8" stroke-linecap="square" fill="none">
<line x1="216.4" y1="2259.4" x2="316.6" y2="2259.4" stroke="#08306b"/>
<line x1="1094.4" y1="2259.4" x2="1194.5" y2="2259.4" stroke="#6baed6"/>
<line x1="1941.6" y1="2259.4" x2="2041.7" y2="2259.4" stroke="#2171b5"/>
<line x1="2809.2" y1="2259.4" x2="2909.7" y2="2259.4" stroke="#000"/>
</g>
<g opacity="0.999">
<text y="94.8" font-size="87.50"><tspan x="484.7" textLength="449.8" lengthAdjust="spacingAndGlyphs">2020-2021</tspan> <tspan x="964.6" textLength="543.5" lengthAdjust="spacingAndGlyphs">Accumulated</tspan> <tspan x="1537.2" textLength="348.8" lengthAdjust="spacingAndGlyphs">Snowfall</tspan> <tspan x="1915.5" textLength="130.3" lengthAdjust="spacingAndGlyphs">For</tspan> <tspan x="2072.0" textLength="1044.0" lengthAdjust="spacingAndGlyphs">Huntington_Tri_State_Ap,</tspan> <tspan x="3145.6" textLength="137.0" lengthAdjust="spacingAndGlyphs">WV</tspan></text>
<text y="245.5" font-size="52.50"><tspan x="368.8" textLength="203.5" lengthAdjust="spacingAndGlyphs">GHCN-D</tspan> <tspan x="588.6" textLength="93.1" lengthAdjust="spacingAndGlyphs">ID=</tspan> <tspan x="700.6" textLength="371.4" lengthAdjust="spacingAndGlyphs">USW00003860</tspan> <tspan x="1090.2" textLength="14.2" lengthAdjust="spacingAndGlyphs">|</tspan> <tspan x="1122.5" textLength="128.0" lengthAdjust="spacingAndGlyphs">LAT=</tspan> <tspan x="1271.3" textLength="170.8" lengthAdjust="spacingAndGlyphs">38.365</tspan> <tspan x="1461.8" textLength="14.2" lengthAdjust="spacingAndGlyphs">|</tspan> <tspan x="1494.3" textLength="141.4" lengthAdjust="spacingAndGlyphs">LON=</tspan> <tspan x="1654.6" textLength="190.7" lengthAdjust="spacingAndGlyphs">-82.555</tspan> <tspan x="1864.5" textLength="14.2" lengthAdjust="spacingAndGlyphs">|</tspan> <tspan x="1897.1" textLength="164.0" lengthAdjust="spacingAndGlyphs">ELEV=</tspan> <tspan x="2080.6" textLength="106.1" lengthAdjust="spacingAndGlyphs">824'</tspan> <tspan x="2205.8" textLength="14.2" lengthAdjust="spacingAndGlyphs">|</tspan> <tspan x="2238.0" textLength="194.6" lengthAdjust="spacingAndGlyphs">Period=</tspan> <tspan x="2452.5" textLength="269.2" lengthAdjust="spacingAndGlyphs">1961-2021</tspan> <tspan x="2741.3" textLength="14.2" lengthAdjust="spacingAndGlyphs">|</tspan> <tspan x="2774.1" textLength="179.2" lengthAdjust="spacingAndGlyphs">Season</tspan> <tspan x="2969.3" textLength="53.4" lengthAdjust="spacingAndGlyphs">To</tspan> <tspan x="3039.7" textLength="118.4" lengthAdjust="spacingAndGlyphs">Date</tspan> <tspan x="3175.2" textLength="204.4" lengthAdjust="spacingAndGlyphs">Report=</tspan> <tspan x="3399.5" textLength="109.6" lengthAdjust="spacingAndGlyphs">99%</tspan></text>
<text y="328.6" font-size="30.63"><tspan x="270.1" textLength="153.3" lengthAdjust="spacingAndGlyphs">Generated</tspan> <tspan x="434.0" textLength="34.8" lengthAdjust="spacingAndGlyphs">by</tspan> <tspan x="476.0" textLength="75.7" lengthAdjust="spacingAndGlyphs">Jared</tspan> <tspan x="562.9" textLength="98.6" lengthAdjust="spacingAndGlyphs">Rennie</tspan> <tspan x="671.6" textLength="158.8" lengthAdjust="spacingAndGlyphs">(@jjrennie)</tspan> <tspan x="841.4" textLength="44.9" lengthAdjust="spacingAndGlyphs">on:</tspan> <tspan x="897.3" textLength="168.2" lengthAdjust="spacingAndGlyphs">2021-09-28</tspan> <tspan x="1075.8" textLength="83.1" lengthAdjust="spacingAndGlyphs">08:36</tspan> <tspan x="1169.0" textLength="119.4" lengthAdjust="spacingAndGlyphs">Eastern.</tspan> <tspan x="1298.4" textLength="65.8" lengthAdjust="spacingAndGlyphs">Data</tspan> <tspan x="1376.8" textLength="36.2" lengthAdjust="spacingAndGlyphs">up</tspan> <tspan x="1423.5" textLength="27.5" lengthAdjust="spacingAndGlyphs">to</tspan> <tspan x="1462.3" textLength="146.1" lengthAdjust="spacingAndGlyphs">20210925</tspan></text>
<text transform="translate(67.5 1579.4) rotate(-90)" y="0" font-size="52.50"><tspan x="0.0" textLength="325.9" lengthAdjust="spacingAndGlyphs">Accumulated</tspan> <tspan x="343.7" textLength="208.7" lengthAdjust="spacingAndGlyphs">Snowfall</tspan> <tspan x="570.5" textLength="198.1" lengthAdjust="spacingAndGlyphs">(inches)</tspan></text>
<text transform="translate(3863.6 842.5) rotate(90)" y="0" font-size="52.50"><tspan x="0.0" textLength="325.9" lengthAdjust="spacingAndGlyphs">Accumulated</tspan> <tspan x="343.7" textLength="208.7" lengthAdjust="spacingAndGlyphs">Snowfall</tspan> <tspan x="570.4" textLength="134.9" lengthAdjust="spacingAndGlyphs">(mm)</tspan></text>
<text y="2133.7" font-size="43.75"><tspan x="122.8" textLength="43.1" lengthAdjust="spacingAndGlyphs">0"</tspan></text>
<text y="1849.2" font-size="43.75"><tspan x="97.1" textLength="68.1" lengthAdjust="spacingAndGlyphs">10"</tspan></text>
<text y="1564.8" font-size="43.75"><tspan x="96.7" textLength="68.5" lengthAdjust="spacingAndGlyphs">20"</tspan></text>
<text y="1280.3" font-size="43.75"><tspan x="96.8" textLength="68.4" lengthAdjust="spacingAndGlyphs">30"</tspan></text>
<text y="995.9" font-size="43.75"><tspan x="96.7" textLength="68.5" lengthAdjust="spacingAndGlyphs">40"</tspan></text>
<text y="711.4" font-size="43.75"><tspan x="96.8" textLength="68.4" lengthAdjust="spacingAndGlyphs">50"</tspan></text>
<text y="426.9" font-size="43.75"><tspan x="96.5" textLength="68.7" lengthAdjust="spacingAndGlyphs">60"</tspan></text>
<text y="2133.7" font-size="43.75"><tspan x="3713.9" textLength="24.3" lengthAdjust="spacingAndGlyphs">0</tspan></text>
<text y="1909.7" font-size="43.75"><tspan x="3714.1" textLength="76.9" lengthAdjust="spacingAndGlyphs">200</tspan></text>
<text y="1685.7" font-size="43.75"><tspan x="3714.2" textLength="76.8" lengthAdjust="spacingAndGlyphs">400</tspan></text>
<text y="1461.7" font-size="43.75"><tspan x="3714.0" textLength="77.0" lengthAdjust="spacingAndGlyphs">600</tspan></text>
<text y="1237.8" font-size="43.75"><tspan x="3713.9" textLength="77.1" lengthAdjust="spacingAndGlyphs">800</tspan></text>
<text y="1013.8" font-size="43.75"><tspan x="3714.6" textLength="103.3" lengthAdjust="spacingAndGlyphs">1000</tspan></text>
<text y="789.8" font-size="43.75"><tspan x="3714.6" textLength="103.3" lengthAdjust="spacingAndGlyphs">1200</tspan></text>
<text y="565.8" font-size="43.75"><tspan x="3714.6" textLength="103.3" lengthAdjust="spacingAndGlyphs">1400</tspan></text>
<text y="341.8" font-size="43.75"><tspan x="3714.6" textLength="103.3" lengthAdjust="spacingAndGlyphs">1600</tspan></text>
<text y="2178.2" font-size="43.75"><tspan x="187.8" textLength="109.3" lengthAdjust="spacingAndGlyphs">Oct 1</tspan></text>
<text y="2178.2" font-size="43.75"><tspan x="475.3" textLength="118.6" lengthAdjust="spacingAndGlyphs">Nov 1</tspan></text>
<text y="2178.2" font-size="43.75"><tspan x="748.3" textLength="117.9" lengthAdjust="spacingAndGlyphs">Dec 1</tspan></text>
<text y="2178.2" font-size="43.75"><tspan x="1043.8" textLength="105.3" lengthAdjust="spacingAndGlyphs">Jan 1</tspan></text>
<text y="2178.2" font-size="43.75"><tspan x="1325.3" textLength="110.4" lengthAdjust="spacingAndGlyphs">Feb 1</tspan></text>
<text y="2178.2" font-size="43.75"><tspan x="1614.1" textLength="115.4" lengthAdjust="spacingAndGlyphs">Mar 1</tspan></text>
<text y="2178.2" font-size="43.75"><tspan x="1898.8" textLength="109.3" lengthAdjust="spacingAndGlyphs">Apr 1</tspan></text>
<text y="2178.2" font-size="43.75"><tspan x="2183.8" textLength="123.3" lengthAdjust="spacingAndGlyphs">May 1</tspan></text>
<text y="2178.2" font-size="43.75"><tspan x="2481.6" textLength="106.2" lengthAdjust="spacingAndGlyphs">Jun 1</tspan></text>
<text y="2178.2" font-size="43.75"><tspan x="2771.0" textLength="91.7" lengthAdjust="spacingAndGlyphs">Jul 1</tspan></text>
<text y="2178.2" font-size="43.75"><tspan x="3050.4" textLength="119.4" lengthAdjust="spacingAndGlyphs">Aug 1</tspan></text>
<text y="2178.2" font-size="43.75"><tspan x="3334.2" textLength="116.1" lengthAdjust="spacingAndGlyphs">Sep 1</tspan></text>
<text y="2276.9" font-size="52.50"><tspan x="354.8" textLength="102.8" lengthAdjust="spacingAndGlyphs">Max</tspan> <tspan x="475.0" textLength="328.5" lengthAdjust="spacingAndGlyphs">(1977-1978):</tspan> <tspan x="854.0" textLength="130.6" lengthAdjust="spacingAndGlyphs">55.7"</tspan></text>
<text y="2276.9" font-size="52.50"><tspan x="1232.8" textLength="88.1" lengthAdjust="spacingAndGlyphs">Min</tspan> <tspan x="1338.5" textLength="328.9" lengthAdjust="spacingAndGlyphs">(2005-2006):</tspan> <tspan x="1733.9" textLength="98.5" lengthAdjust="spacingAndGlyphs">3.7"</tspan></text>
<text y="2276.9" font-size="52.50"><tspan x="2082.1" textLength="91.5" lengthAdjust="spacingAndGlyphs">Avg</tspan> <tspan x="2191.5" textLength="327.4" lengthAdjust="spacingAndGlyphs">(1991-2020):</tspan> <tspan x="2568.7" textLength="130.7" lengthAdjust="spacingAndGlyphs">19.8"</tspan></text>
<text y="2276.9" font-size="52.50"><tspan x="2947.8" textLength="187.6" lengthAdjust="spacingAndGlyphs">Current</tspan> <tspan x="3153.5" textLength="327.5" lengthAdjust="spacingAndGlyphs">(2020-2021):</tspan> <tspan x="3530.7" textLength="131.0" lengthAdjust="spacingAndGlyphs">11.4"</tspan></text>
</g>
</svg>
</body></html>
